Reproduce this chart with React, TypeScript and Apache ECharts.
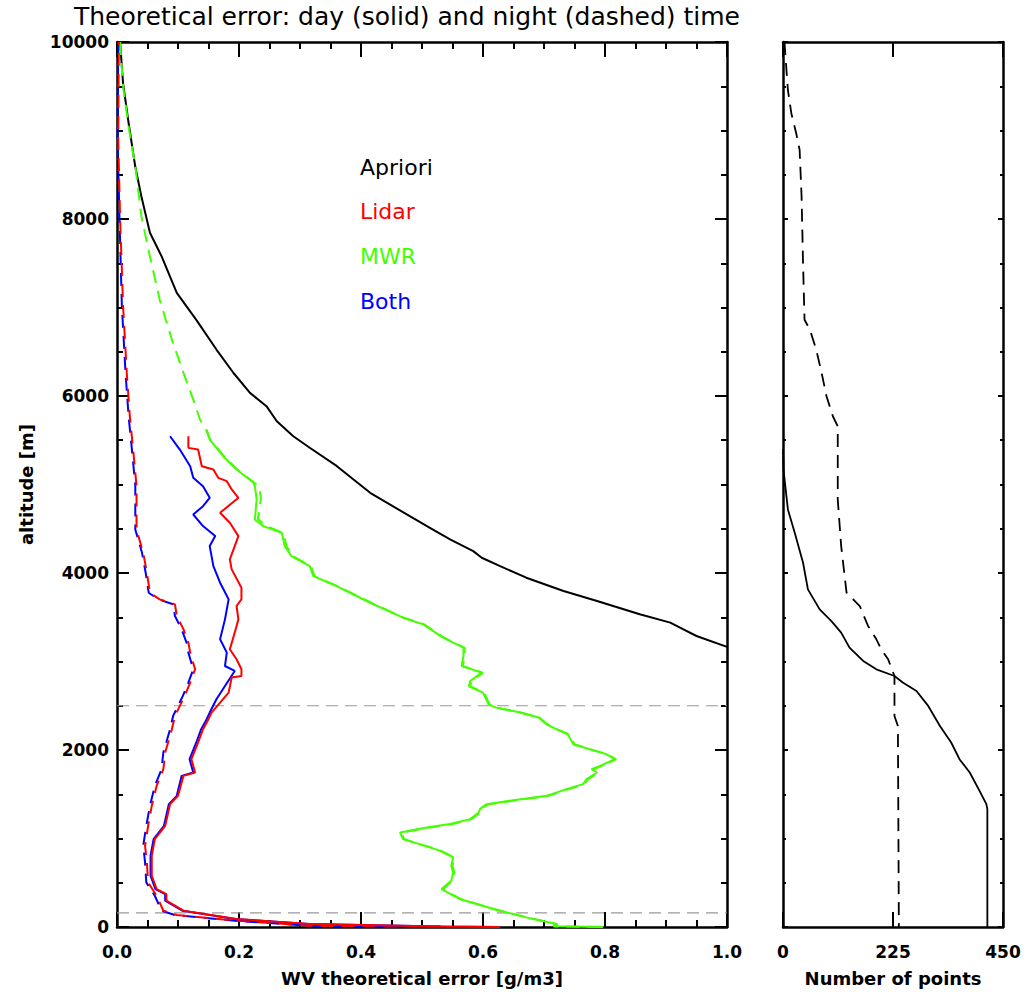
import React, { useEffect, useRef } from "react";
import * as echarts from "echarts";

// ---------- data (x value, altitude m) ----------
const apriori: number[][] = [
  [0.005, 10000], [0.010, 9530], [0.019, 9085], [0.030, 8590], [0.040, 8255], [0.054, 7845],
  [0.073, 7580], [0.098, 7165], [0.130, 6860], [0.163, 6525], [0.191, 6260], [0.218, 6035],
  [0.245, 5885], [0.262, 5715], [0.289, 5545], [0.316, 5415], [0.360, 5210], [0.415, 4906],
  [0.480, 4642], [0.513, 4511], [0.546, 4379], [0.584, 4247], [0.598, 4172], [0.628, 4078],
  [0.671, 3947], [0.732, 3796], [0.787, 3683], [0.857, 3533], [0.907, 3439], [0.923, 3382],
  [0.950, 3288], [1.0, 3165],
];

const mwrDay: number[][] = [
  [0.147, 5620], [0.152, 5508], [0.174, 5320], [0.196, 5169], [0.224, 5019], [0.226, 4981],
  [0.229, 4831], [0.226, 4605], [0.240, 4530], [0.270, 4454], [0.275, 4304], [0.286, 4191],
  [0.316, 4078], [0.322, 3965], [0.360, 3852], [0.415, 3664], [0.469, 3495], [0.502, 3420],
  [0.530, 3290], [0.540, 3251], [0.568, 3157], [0.568, 3062], [0.565, 2949], [0.598, 2874],
  [0.579, 2780], [0.577, 2720], [0.600, 2649], [0.606, 2560], [0.610, 2510], [0.622, 2479],
  [0.661, 2423], [0.691, 2367], [0.704, 2291], [0.720, 2235], [0.739, 2178], [0.748, 2065],
  [0.775, 2009], [0.802, 1953], [0.816, 1896], [0.792, 1821], [0.778, 1783], [0.787, 1746],
  [0.770, 1670], [0.764, 1614], [0.737, 1558], [0.704, 1482], [0.644, 1426], [0.606, 1388],
  [0.595, 1332], [0.593, 1294], [0.579, 1219], [0.546, 1163], [0.508, 1124], [0.464, 1068],
  [0.469, 993], [0.513, 900], [0.530, 860], [0.551, 786], [0.548, 692], [0.551, 617],
  [0.548, 523], [0.532, 429], [0.562, 316], [0.617, 203], [0.671, 109], [0.720, 34],
  [0.715, 8], [0.797, 0],
];

const mwrNight: number[][] = [
  [0.005, 10000], [0.010, 9495], [0.019, 9044], [0.030, 8593], [0.040, 8029], [0.054, 7577],
  [0.070, 7088], [0.090, 6637], [0.109, 6261], [0.125, 5959], [0.136, 5734], [0.147, 5602],
  [0.153, 5505], [0.176, 5315], [0.198, 5165], [0.226, 5015], [0.233, 4975], [0.236, 4840],
  [0.231, 4610], [0.243, 4535], [0.273, 4450], [0.278, 4300], [0.289, 4188], [0.318, 4075],
  [0.324, 3962], [0.362, 3850], [0.417, 3662], [0.471, 3493], [0.504, 3418], [0.532, 3288],
  [0.542, 3249], [0.570, 3155], [0.570, 3060], [0.567, 2947], [0.600, 2872], [0.581, 2778],
  [0.579, 2718], [0.602, 2647], [0.608, 2558], [0.612, 2508], [0.624, 2477], [0.663, 2421],
  [0.693, 2365], [0.706, 2289], [0.722, 2233], [0.741, 2176], [0.750, 2063], [0.777, 2007],
  [0.804, 1951], [0.818, 1894], [0.794, 1819], [0.780, 1781], [0.789, 1744], [0.772, 1668],
  [0.766, 1612], [0.739, 1556], [0.706, 1480], [0.646, 1424], [0.608, 1386], [0.597, 1330],
  [0.595, 1292], [0.581, 1217], [0.548, 1161], [0.510, 1122], [0.466, 1066], [0.471, 991],
  [0.515, 898], [0.532, 858], [0.553, 784], [0.550, 690], [0.553, 615], [0.550, 521],
  [0.534, 427], [0.564, 314], [0.619, 201], [0.673, 107], [0.722, 32], [0.717, 6], [0.799, 0],
];

const lidarDay: number[][] = [
  [0.117, 5545], [0.117, 5414], [0.133, 5395], [0.139, 5207], [0.158, 5169], [0.166, 5075],
  [0.180, 5038], [0.188, 4944], [0.199, 4850], [0.169, 4680], [0.185, 4568], [0.199, 4417],
  [0.193, 4304], [0.185, 4153], [0.188, 4041], [0.204, 3834], [0.204, 3702], [0.196, 3627],
  [0.199, 3476], [0.193, 3326], [0.185, 3138], [0.196, 3025], [0.204, 2912], [0.204, 2836],
  [0.188, 2818], [0.183, 2649], [0.169, 2536], [0.155, 2423], [0.150, 2348], [0.141, 2235],
  [0.133, 2085], [0.122, 1896], [0.128, 1746], [0.109, 1708], [0.100, 1482], [0.087, 1388],
  [0.079, 1143], [0.062, 993], [0.057, 805], [0.057, 579], [0.065, 429], [0.081, 372],
  [0.081, 297], [0.109, 184], [0.196, 90], [0.316, 34], [0.530, 5], [0.628, 0],
];

const bothDay: number[][] = [
  [0.087, 5545], [0.103, 5395], [0.120, 5207], [0.125, 5075], [0.141, 4981], [0.152, 4850],
  [0.141, 4755], [0.125, 4661], [0.141, 4530], [0.161, 4417], [0.152, 4304], [0.158, 4078],
  [0.169, 3890], [0.183, 3702], [0.177, 3476], [0.169, 3251], [0.180, 3100], [0.177, 2949],
  [0.193, 2893], [0.177, 2724], [0.163, 2573], [0.152, 2423], [0.147, 2348], [0.138, 2235],
  [0.130, 2085], [0.119, 1896], [0.125, 1746], [0.106, 1708], [0.098, 1482], [0.085, 1388],
  [0.077, 1143], [0.060, 993], [0.055, 805], [0.055, 579], [0.063, 429], [0.079, 372],
  [0.079, 297], [0.107, 184], [0.194, 90], [0.314, 34], [0.530, 5], [0.620, 0],
];

const lidarNight: number[][] = [
  [0.003, 10000], [0.002, 8894], [0.005, 8029], [0.010, 7013], [0.016, 6261], [0.021, 5771],
  [0.027, 5357], [0.032, 4981], [0.032, 4492], [0.043, 4229], [0.049, 4003], [0.054, 3777],
  [0.070, 3702], [0.095, 3646], [0.098, 3514], [0.109, 3363], [0.117, 3213], [0.120, 3100],
  [0.128, 2912], [0.120, 2762], [0.111, 2611], [0.103, 2498], [0.095, 2385], [0.090, 2235],
  [0.079, 1972], [0.076, 1783], [0.065, 1595], [0.057, 1369], [0.051, 1143], [0.046, 918],
  [0.049, 730], [0.051, 504], [0.065, 353], [0.076, 184], [0.098, 135], [0.196, 71],
  [0.316, 15], [0.530, 2], [0.550, 0],
];

const bothNight: number[][] = [
  [0.002, 10000], [0.001, 8894], [0.004, 8029], [0.008, 7013], [0.014, 6261], [0.019, 5771],
  [0.025, 5357], [0.030, 4981], [0.030, 4492], [0.041, 4229], [0.047, 4003], [0.052, 3777],
  [0.068, 3702], [0.092, 3646], [0.095, 3514], [0.106, 3363], [0.114, 3213], [0.117, 3100],
  [0.125, 2912], [0.117, 2762], [0.108, 2611], [0.100, 2498], [0.092, 2385], [0.087, 2235],
  [0.076, 1972], [0.073, 1783], [0.062, 1595], [0.054, 1369], [0.048, 1143], [0.043, 918],
  [0.046, 730], [0.048, 504], [0.062, 353], [0.073, 184], [0.095, 135], [0.193, 71],
  [0.313, 15], [0.530, 2], [0.545, 0],
];

// number of points (count, altitude m)
const countDay: number[][] = [
  [0, 5400], [1, 5169], [10, 4718], [24, 4454], [41, 4116], [51, 3815], [75, 3589], [99, 3457],
  [119, 3326], [136, 3157], [164, 3006], [191, 2912], [228, 2836], [245, 2762], [273, 2667],
  [297, 2498], [321, 2272], [344, 2085], [361, 1896], [382, 1746], [402, 1538], [416, 1388],
  [418, 1332], [418, 0],
];

const countNight: number[][] = [
  [3, 10000], [10, 9458], [17, 9195], [27, 8969], [34, 8781], [38, 8254], [41, 7502], [44, 6862],
  [55, 6749], [68, 6524], [79, 6261], [89, 5997], [102, 5771], [112, 5658], [112, 4831],
  [119, 4304], [130, 3777], [147, 3683], [157, 3627], [174, 3401], [191, 3251], [201, 3138],
  [215, 3025], [228, 2836], [228, 2385], [235, 2272], [237, 0],
];

const refAltitudes = [160, 2500];
const legendNames = ["Apriori", "Lidar", "MWR", "Both"];
const titleText = "Theoretical error: day (solid) and night (dashed) time";

const RED = "#ff0000";
const GREEN = "#44ff00";
const BLUE = "#0000ff";
const BLACK = "#000000";
const legendColors = [BLACK, RED, GREEN, BLUE];
const FONT = "DejaVu Sans";
const DASH = [13, 8];

function line(data: number[][], color: string, dashed: boolean, xi: number, yi: number, width = 2, dashOffset = 0) {
  return {
    type: "line",
    data,
    xAxisIndex: xi,
    yAxisIndex: yi,
    symbol: "none",
    showSymbol: false,
    silent: true,
    lineStyle: {
      color,
      width,
      type: dashed ? DASH : "solid",
      dashOffset,
    },
  };
}

function axisCommon(tickLen: number, minorLen: number, minor: boolean) {
  return {
    axisLine: { show: true, onZero: false, lineStyle: { color: BLACK, width: 2.5 } },
    axisTick: { show: true, inside: true, length: tickLen, lineStyle: { color: BLACK, width: 2 } },
    minorTick: { show: minor, splitNumber: 4, length: minorLen, lineStyle: { color: BLACK, width: 2 } },
    splitLine: { show: false },
    minorSplitLine: { show: false },
  };
}

const labelStyle = { color: BLACK, fontFamily: FONT, fontWeight: "bold" as const, fontSize: 17 };
const nameStyle = { color: BLACK, fontFamily: FONT, fontWeight: "bold" as const, fontSize: 18 };

export default function App() {
  const ref = useRef<HTMLDivElement>(null);
  useEffect(() => {
    if (!ref.current) return;
    const chart = echarts.init(ref.current, null, { renderer: "svg" });

    const refSeries = refAltitudes.map((a) => ({
      type: "line",
      data: [[0, a], [1, a]],
      xAxisIndex: 0,
      yAxisIndex: 0,
      symbol: "none",
      silent: true,
      lineStyle: { color: "#999999", width: 1.2, type: [12, 7] },
    }));

    const option: any = {
      animation: false,
      backgroundColor: "#ffffff",
      title: {
        text: titleText,
        left: 74,
        top: 0,
        padding: [2, 0, 0, 0],
        textStyle: { color: BLACK, fontFamily: FONT, fontWeight: "normal", fontSize: 25, lineHeight: 29 },
      },
      grid: [
        { left: 117, top: 42, width: 610, height: 886 },
        { left: 783, top: 42, width: 220, height: 886 },
      ],
      xAxis: [
        {
          type: "value", gridIndex: 0, position: "bottom", min: 0, max: 1, interval: 0.2,
          ...axisCommon(15, 7, true),
          axisLabel: { ...labelStyle, margin: 16, formatter: (v: number) => v.toFixed(1) },
          name: "WV theoretical error [g/m3]", nameLocation: "middle", nameGap: 42,
          nameTextStyle: nameStyle,
        },
        {
          type: "value", gridIndex: 0, position: "top", min: 0, max: 1, interval: 0.2,
          ...axisCommon(15, 7, true),
          axisLabel: { show: false },
        },
        {
          type: "value", gridIndex: 1, position: "bottom", min: 0, max: 450, interval: 225,
          ...axisCommon(15, 7, false),
          axisLabel: { ...labelStyle, margin: 16, formatter: (v: number) => String(v) },
          name: "Number of points", nameLocation: "middle", nameGap: 42,
          nameTextStyle: nameStyle,
        },
        {
          type: "value", gridIndex: 1, position: "top", min: 0, max: 450, interval: 225,
          ...axisCommon(15, 7, false),
          axisLabel: { show: false },
        },
      ],
      yAxis: [
        {
          type: "value", gridIndex: 0, position: "left", min: 0, max: 10000, interval: 2000,
          ...axisCommon(12, 6, true),
          axisLabel: { ...labelStyle, margin: 8, formatter: (v: number) => String(v) },
          name: "altitude [m]", nameLocation: "middle", nameGap: 82,
          nameTextStyle: nameStyle,
        },
        {
          type: "value", gridIndex: 0, position: "right", min: 0, max: 10000, interval: 2000,
          ...axisCommon(12, 6, true),
          axisLabel: { show: false },
        },
        {
          type: "value", gridIndex: 1, position: "left", min: 0, max: 10000, interval: 2000,
          ...axisCommon(5, 3, true),
          axisLabel: { show: false },
        },
        {
          type: "value", gridIndex: 1, position: "right", min: 0, max: 10000, interval: 2000,
          ...axisCommon(5, 3, true),
          axisLabel: { show: false },
        },
      ],
      graphic: legendNames.map((n, i) => ({
        type: "text",
        left: 360,
        top: 156 + i * 44.7,
        silent: true,
        style: { text: n, fill: legendColors[i], font: `normal 22px "${FONT}"` },
      })),
      series: [
        ...refSeries,
        line(apriori, BLACK, false, 0, 0, 2),
        line(mwrNight, GREEN, true, 0, 0, 2),
        line(mwrDay, GREEN, false, 0, 0, 2),
        line(bothNight, BLUE, true, 0, 0, 2),
        line(lidarNight, RED, true, 0, 0, 2, 10),
        line(bothDay, BLUE, false, 0, 0, 2),
        line(lidarDay, RED, false, 0, 0, 2),
        line(countNight, BLACK, true, 2, 2, 1.8),
        line(countDay, BLACK, false, 2, 2, 1.8),
      ],
    };
    chart.setOption(option);
    return () => chart.dispose();
  }, []);

  return (
    <div
      ref={ref}
      style={{ position: "absolute", left: 0, top: 0, width: 1027, height: 992, background: "#fff" }}
    />
  );
}
